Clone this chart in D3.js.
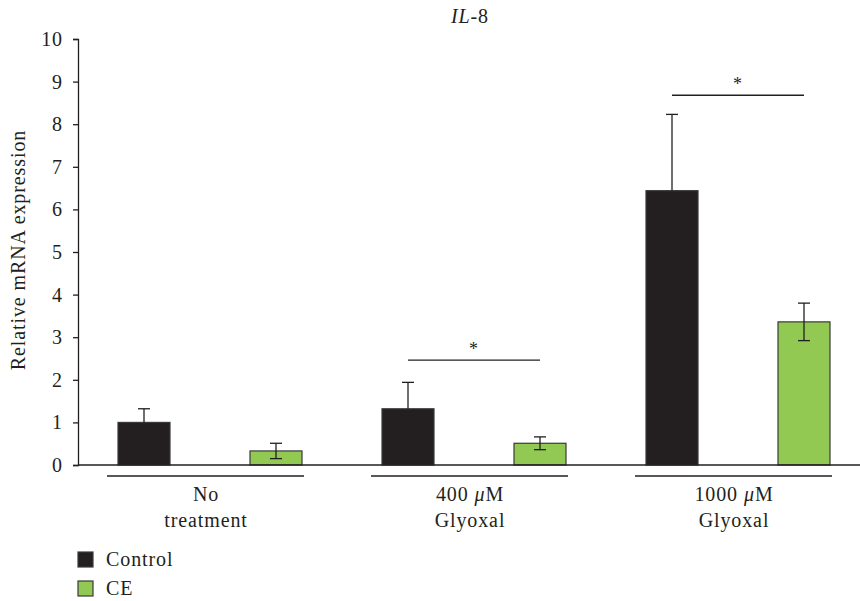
<!DOCTYPE html>
<html>
<head>
<meta charset="utf-8">
<script src="https://cdn.jsdelivr.net/npm/d3@7"></script>
<style>
body { margin: 0; background: #fff; }
text { font-family: "Liberation Serif", "Times New Roman", serif; fill: #231f20; letter-spacing: 0.9px; }
</style>
</head>
<body>
<div id="chart"></div>
<script>
// groups and series
var groups = ["No treatment", "400 μM Glyoxal", "1000 μM Glyoxal"];
var groupLines = [["No", "treatment"], ["400 ", "Glyoxal"], ["1000 ", "Glyoxal"]];
var series = ["Control", "CE"];
var controlValues = [1.0, 1.32, 6.44];
var controlErrors = [0.32, 0.62, 1.79];
var ceValues = [0.33, 0.51, 3.36];
var ceErrors = [0.18, 0.15, 0.44];
var yTicks = [0, 1, 2, 3, 4, 5, 6, 7, 8, 9, 10];
var sigPairs = [{group: 1, y: 2.46}, {group: 2, y: 8.68}];

var colors = {"Control": "#231f20", "CE": "#92c953"};

var width = 860, height = 601;
var svg = d3.select("#chart").append("svg")
    .attr("width", width).attr("height", height);

var x0 = d3.scaleBand().domain(groups).range([78, 870]);
var x1 = d3.scalePoint().domain(series).range([0, x0.bandwidth()]).padding(0.5);
var y = d3.scaleLinear().domain([0, 10]).range([465, 39]);
var barW = 52;

// build rows
var rows = [];
groups.forEach(function (g, i) {
    rows.push({group: g, s: "Control", v: controlValues[i], e: controlErrors[i], up: true});
    rows.push({group: g, s: "CE", v: ceValues[i], e: ceErrors[i], up: false});
});

// y axis
var yAxis = svg.append("g")
    .attr("transform", "translate(78,0)")
    .call(d3.axisLeft(y).tickValues(yTicks).tickSize(5).tickPadding(10));
yAxis.select(".domain").attr("stroke", "#231f20").attr("stroke-width", 1.3);
yAxis.selectAll(".tick line").attr("stroke", "#231f20").attr("stroke-width", 1.3);
yAxis.selectAll(".tick text")
    .attr("font-size", 20)
    .attr("font-family", "Liberation Serif, serif")
    .attr("fill", "#231f20");

// y label
svg.append("text")
    .attr("transform", "translate(25,250) rotate(-90)")
    .attr("text-anchor", "middle")
    .attr("font-size", 20)
    .text("Relative mRNA expression");

// title
var title = svg.append("text")
    .attr("x", 470).attr("y", 23)
    .attr("text-anchor", "middle")
    .attr("font-size", 20);
title.append("tspan").attr("font-style", "italic").text("IL");
title.append("tspan").text("-8");

// bars
svg.selectAll("rect.bar").data(rows).enter().append("rect")
    .attr("class", "bar")
    .attr("x", function (d) { return x0(d.group) + x1(d.s) - barW / 2; })
    .attr("y", function (d) { return y(d.v); })
    .attr("width", barW)
    .attr("height", function (d) { return y(0) - y(d.v); })
    .attr("fill", function (d) { return colors[d.s]; })
    .attr("stroke", "#3a3a3a")
    .attr("stroke-width", 1.2);

// error bars
var eb = svg.selectAll("g.err").data(rows).enter().append("g")
    .attr("class", "err")
    .attr("stroke", "#231f20")
    .attr("stroke-width", 1.3);
eb.append("line")
    .attr("x1", function (d) { return x0(d.group) + x1(d.s); })
    .attr("x2", function (d) { return x0(d.group) + x1(d.s); })
    .attr("y1", function (d) { return d.up ? y(d.v) : y(d.v - d.e); })
    .attr("y2", function (d) { return y(d.v + d.e); });
eb.append("line")
    .attr("x1", function (d) { return x0(d.group) + x1(d.s) - 6; })
    .attr("x2", function (d) { return x0(d.group) + x1(d.s) + 6; })
    .attr("y1", function (d) { return y(d.v + d.e); })
    .attr("y2", function (d) { return y(d.v + d.e); });
eb.filter(function (d) { return !d.up; }).append("line")
    .attr("x1", function (d) { return x0(d.group) + x1(d.s) - 6; })
    .attr("x2", function (d) { return x0(d.group) + x1(d.s) + 6; })
    .attr("y1", function (d) { return y(d.v - d.e); })
    .attr("y2", function (d) { return y(d.v - d.e); });

// baseline
svg.append("line")
    .attr("x1", 78).attr("x2", 860)
    .attr("y1", y(0)).attr("y2", y(0))
    .attr("stroke", "#231f20").attr("stroke-width", 1.3);

// group underlines and labels
groups.forEach(function (g, i) {
    var cx = x0(g) + x0.bandwidth() / 2;
    svg.append("line")
        .attr("x1", cx - 103).attr("x2", cx + 94)
        .attr("y1", 476).attr("y2", 476)
        .attr("stroke", "#231f20").attr("stroke-width", 1.3);
    var t1 = svg.append("text")
        .attr("x", cx - 4).attr("y", 501)
        .attr("text-anchor", "middle")
        .attr("font-size", 20)
        .text(groupLines[i][0]);
    if (i > 0) {
        t1.append("tspan").attr("font-style", "italic").text("μ");
        t1.append("tspan").text("M");
    }
    svg.append("text")
        .attr("x", cx - 4).attr("y", 527)
        .attr("text-anchor", "middle")
        .attr("font-size", 20)
        .text(groupLines[i][1]);
});

// significance markers
sigPairs.forEach(function (p) {
    var g = groups[p.group];
    var xa = x0(g) + x1("Control"), xb = x0(g) + x1("CE");
    svg.append("line")
        .attr("x1", xa).attr("x2", xb)
        .attr("y1", y(p.y)).attr("y2", y(p.y))
        .attr("stroke", "#231f20").attr("stroke-width", 1.3);
    svg.append("text")
        .attr("x", (xa + xb) / 2).attr("y", y(p.y) - 5)
        .attr("text-anchor", "middle")
        .attr("font-size", 18)
        .text("*");
});

// legend
var legend = svg.selectAll("g.legend").data(series).enter().append("g")
    .attr("class", "legend")
    .attr("transform", function (d, i) { return "translate(78," + (552 + i * 29) + ")"; });
legend.append("rect")
    .attr("width", 15).attr("height", 15)
    .attr("fill", function (d) { return colors[d]; })
    .attr("stroke", "#3a3a3a").attr("stroke-width", 1.2);
legend.append("text")
    .attr("x", 28).attr("y", 14)
    .attr("font-size", 20)
    .text(function (d) { return d; });
</script>
</body>
</html>
